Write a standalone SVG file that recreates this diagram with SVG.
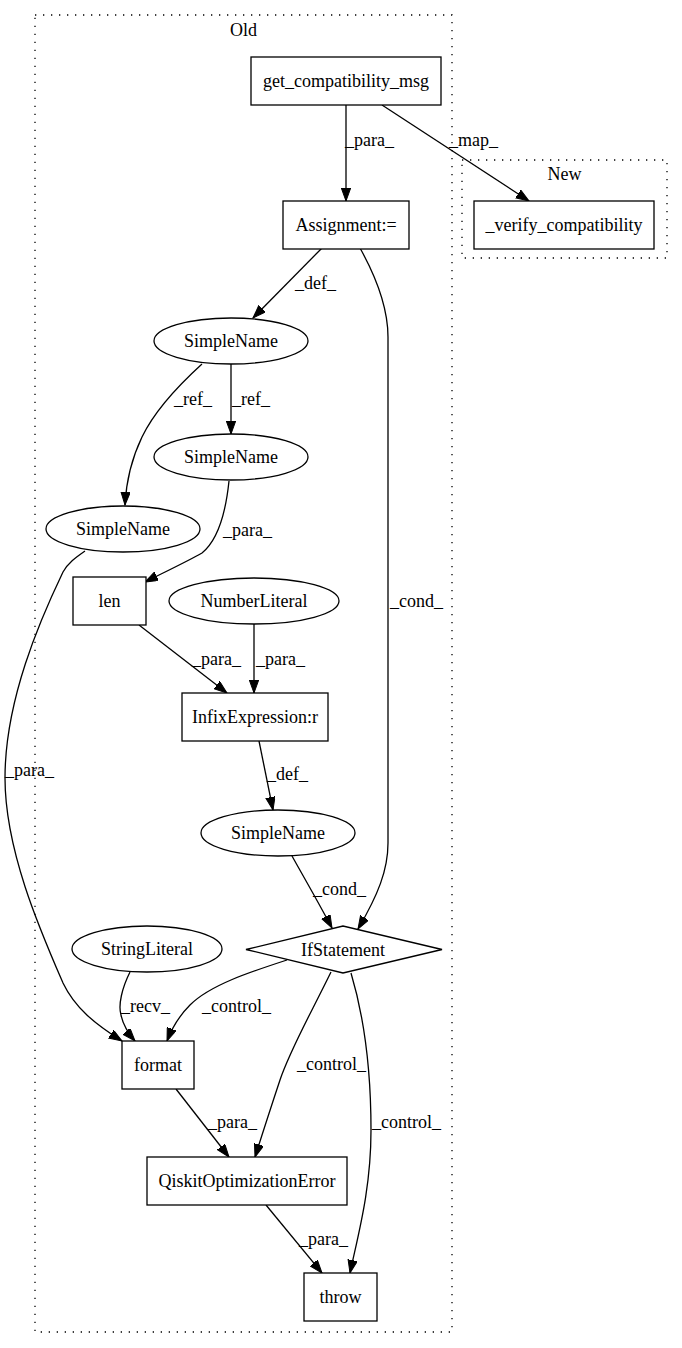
<svg xmlns="http://www.w3.org/2000/svg" width="682" height="1348" viewBox="0 0 682 1348">
<style>
text{font-family:"Liberation Serif","Times New Roman",serif;font-size:18px;fill:#000}
.n{text-anchor:middle}
.shape{fill:#fff;stroke:#000;stroke-width:1.3}
.cl{fill:none;stroke:#000;stroke-width:1.3;stroke-dasharray:1.3,6.7}
.e{fill:none;stroke:#000;stroke-width:1.3;marker-end:url(#ah)}
</style>
<defs>
<marker id="ah" markerUnits="userSpaceOnUse" markerWidth="14" markerHeight="10" refX="13" refY="4.7" orient="auto">
<path d="M0,0 L13,4.7 L0,9.4 z" fill="#000" stroke="#000" stroke-width="1"/>
</marker>
</defs>
<rect width="682" height="1348" fill="#fff"/>
<g id="cluster_old">
<rect class="cl" x="35" y="15" width="417" height="1317"/>
<text class="n" x="243.5" y="36">Old</text>
</g>
<g id="cluster_new">
<rect class="cl" x="462" y="160" width="205" height="98"/>
<text class="n" x="564.5" y="180">New</text>
</g>
<g id="connectors">
<path class="e" d="M346,105 L346,201"/>
<text x="345" y="146">_para_</text>
<path class="e" d="M382,105 L529,201"/>
<text x="449" y="146">_map_</text>
<path class="e" d="M322,248 L253,318"/>
<text x="295" y="289">_def_</text>
<path class="e" d="M360,248 C375,275 388,305 388,337 L388,843 C388,870 378,895 358,929"/>
<text x="390" y="607">_cond_</text>
<path class="e" d="M231,364 L231,434"/>
<text x="232" y="405">_ref_</text>
<path class="e" d="M202,364 C180,384 155,410 142,437 C130,462 126,485 125,505"/>
<text x="174" y="405">_ref_</text>
<path class="e" d="M229,481 C226,510 218,540 202,553 C190,560 165,572 145,582"/>
<text x="223" y="536">_para_</text>
<path class="e" d="M139,625 L227,693"/>
<text x="192" y="665">_para_</text>
<path class="e" d="M254,624 L254,693"/>
<text x="256" y="665">_para_</text>
<path class="e" d="M259,741 L273,810"/>
<text x="267" y="780">_def_</text>
<path class="e" d="M85,551 C75,558 68,563 63,572 C40,620 5,700 5,778 C5,850 40,930 63,983 C75,1008 95,1024 122,1041"/>
<text x="5" y="776">_para_</text>
<path class="e" d="M292,856 C302,874 316,898 332,928"/>
<text x="313" y="895">_cond_</text>
<path class="e" d="M130,972 C122,988 118,1005 121,1015 C123,1025 128,1033 135,1041"/>
<text x="121" y="1012">_recv_</text>
<path class="e" d="M287,960 C250,972 210,985 190,1005 C180,1015 172,1028 167,1041"/>
<text x="202" y="1012">_control_</text>
<path class="e" d="M331,972 C310,1015 290,1050 280,1080 C270,1110 262,1135 255,1157"/>
<text x="297" y="1070">_control_</text>
<path class="e" d="M351,973 C365,1020 371,1070 371,1130 C371,1190 358,1235 350,1273"/>
<text x="372" y="1128">_control_</text>
<path class="e" d="M176,1089 L229,1157"/>
<text x="208" y="1128">_para_</text>
<path class="e" d="M266,1205 L322,1273"/>
<text x="299" y="1245">_para_</text>
</g>
<g id="get_compatibility_msg">
<rect class="shape" x="251" y="57" width="190" height="48"/>
<text class="n" x="346" y="87">get_compatibility_msg</text>
</g>
<g id="assignment">
<rect class="shape" x="283" y="201" width="126" height="48"/>
<text class="n" x="346" y="231">Assignment:=</text>
</g>
<g id="verify_compatibility">
<rect class="shape" x="474" y="201" width="180" height="48"/>
<text class="n" x="564" y="231">_verify_compatibility</text>
</g>
<g id="simplename1">
<ellipse class="shape" cx="231" cy="341" rx="77" ry="23"/>
<text class="n" x="231" y="347">SimpleName</text>
</g>
<g id="simplename2">
<ellipse class="shape" cx="231" cy="457" rx="77" ry="23"/>
<text class="n" x="231" y="463">SimpleName</text>
</g>
<g id="simplename3">
<ellipse class="shape" cx="123" cy="529" rx="77" ry="23"/>
<text class="n" x="123" y="535">SimpleName</text>
</g>
<g id="len">
<rect class="shape" x="73" y="577" width="73" height="48"/>
<text class="n" x="109.5" y="607">len</text>
</g>
<g id="numberliteral">
<ellipse class="shape" cx="254" cy="601" rx="85" ry="23"/>
<text class="n" x="254" y="607">NumberLiteral</text>
</g>
<g id="infix">
<rect class="shape" x="182" y="693" width="146" height="48"/>
<text class="n" x="255" y="723">InfixExpression:r</text>
</g>
<g id="simplename4">
<ellipse class="shape" cx="278" cy="833" rx="77" ry="23"/>
<text class="n" x="278" y="839">SimpleName</text>
</g>
<g id="ifstatement">
<polygon class="shape" points="246,949.5 343,926 442,949.5 343,973"/>
<text class="n" x="343" y="955.5">IfStatement</text>
</g>
<g id="stringliteral">
<ellipse class="shape" cx="147" cy="949" rx="75" ry="23"/>
<text class="n" x="147" y="955">StringLiteral</text>
</g>
<g id="format">
<rect class="shape" x="122" y="1041" width="72" height="48"/>
<text class="n" x="158" y="1071">format</text>
</g>
<g id="qiskitoptimizationerror">
<rect class="shape" x="147" y="1157" width="200" height="48"/>
<text class="n" x="247" y="1187">QiskitOptimizationError</text>
</g>
<g id="throw">
<rect class="shape" x="304" y="1273" width="73" height="48"/>
<text class="n" x="340.5" y="1303">throw</text>
</g>
</svg>
